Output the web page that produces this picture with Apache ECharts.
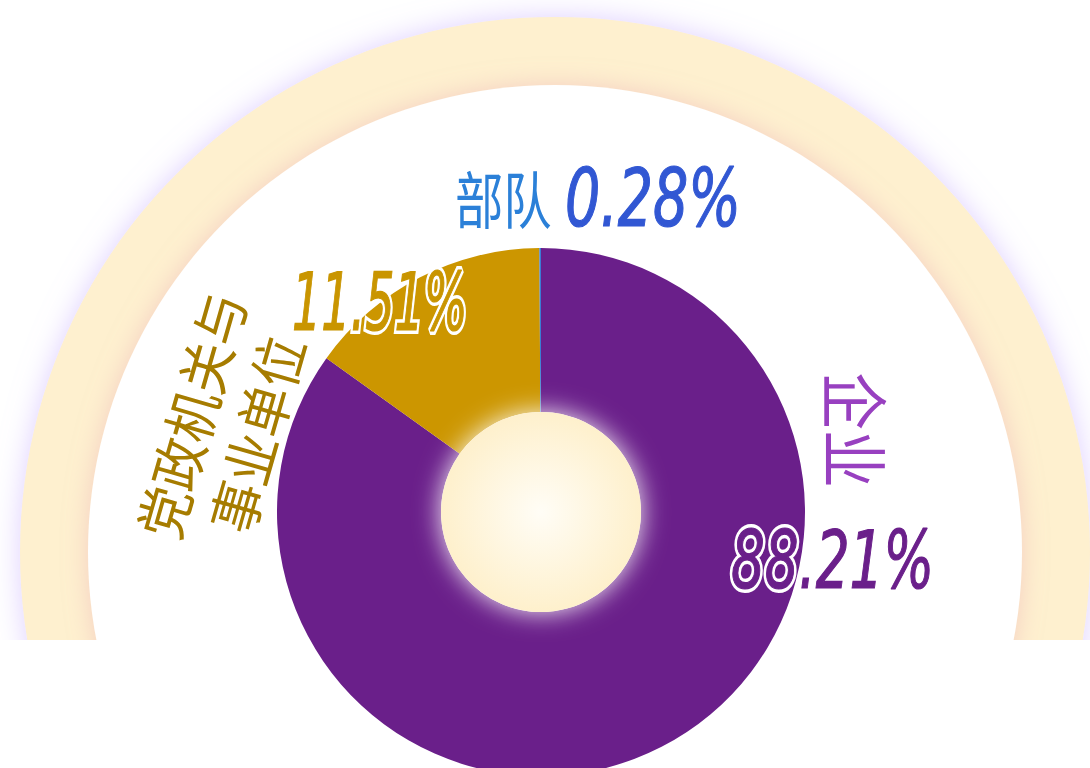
<!DOCTYPE html>
<html>
<head>
<meta charset="utf-8">
<title>单位性质占比</title>
<script src="https://cdn.jsdelivr.net/npm/echarts@6/dist/echarts.min.js"></script>
<style>
  html, body { margin: 0; padding: 0; background: #fff; }
  #main { width: 1090px; height: 768px; }
</style>
</head>
<body>
<div id="main"></div>
<script>
const names = ['企业', '党政机关与事业单位', '部队'];
const sliceValues = [84.9, 15.0, 0.1];
const percentLabels = ['88.21%', '11.51%', '0.28%'];

const numFont = '"Liberation Sans Narrow", "DejaVu Sans Condensed", sans-serif';
const cjkFont = '"Noto Sans CJK SC", sans-serif';
const deg = Math.PI / 180;

let myChart = echarts.init(document.getElementById('main'), null, { renderer: 'svg' });

// white halo underneath, coloured text on top
function numText(x, y, text, color, sx) {
  let base = {
    type: 'text', x: x, y: y, scaleX: sx,
    style: {
      text: text, fontFamily: numFont, fontStyle: 'italic', fontSize: 80,
      align: 'left', verticalAlign: 'middle'
    }
  };
  let halo = echarts.util.merge({ z: 19, style: { fill: '#fff', stroke: '#fff', lineWidth: 8 } }, base, true);
  let front = echarts.util.merge({ z: 20, style: { fill: color, stroke: color, lineWidth: 1.2 } }, base, true);
  return [halo, front];
}

let option = {
  backgroundColor: '#fff',
  graphic: {
    elements: [
      // big pale ring behind the pie
      {
        type: 'circle', z: 0, shape: { cx: 555, cy: 552, r: 535 },
        style: { fill: '#FEF0CF', shadowBlur: 28, shadowColor: 'rgba(190,160,255,0.5)' }
      },
      {
        type: 'circle', z: 1, shape: { cx: 555, cy: 552, r: 467 },
        style: { fill: '#fff', shadowBlur: 24, shadowColor: 'rgba(235,170,180,0.5)' }
      },
      {
        type: 'rect', z: 1.5, shape: { x: 0, y: 640, width: 1090, height: 128 },
        style: { fill: '#fff' }
      },
      // glowing centre
      {
        type: 'circle', z: 10, shape: { cx: 541, cy: 512, r: 100 },
        style: {
          fill: new echarts.graphic.RadialGradient(0.5, 0.5, 0.5, [
            { offset: 0, color: '#FFFDF6' },
            { offset: 1, color: '#FEF0CC' }
          ]),
          shadowBlur: 26, shadowColor: 'rgba(255,255,255,0.95)'
        }
      },
      // 部队
      {
        type: 'text', z: 20, x: 455, y: 197, scaleX: 0.78,
        style: {
          text: names[2], fill: '#2B80D8',
          fontFamily: cjkFont, fontSize: 62, align: 'left', verticalAlign: 'middle'
        }
      },
      ...numText(565, 199, percentLabels[2], '#3157D3', 0.77),
      // 党政机关与事业单位
      {
        type: 'text', z: 20, x: 222, y: 424, rotation: 74 * deg, scaleX: 0.9,
        style: {
          text: names[1].slice(0, 5) + '\n' + names[1].slice(5),
          fill: '#A67C00', fontFamily: cjkFont, fontSize: 56, lineHeight: 68,
          align: 'center', verticalAlign: 'middle'
        }
      },
      ...numText(292, 303, percentLabels[1], '#C99500', 0.64),
      // 企业
      {
        type: 'text', z: 20, x: 858, y: 430, rotation: -90 * deg, scaleX: 0.85,
        style: {
          text: names[0], fill: '#9840C0',
          fontFamily: cjkFont, fontSize: 68, align: 'center', verticalAlign: 'middle'
        }
      },
      ...numText(731, 561, percentLabels[0], '#6A1F8A', 0.74)
    ]
  },
  series: [
    {
      type: 'pie',
      z: 2,
      center: [541, 512],
      radius: [100, 264],
      startAngle: 90,
      clockwise: true,
      silent: true,
      label: { show: false },
      labelLine: { show: false },
      data: names.map((n, i) => ({ name: n, value: sliceValues[i] })),
      color: ['#6A1F8A', '#CC9600', '#3A7BD5']
    }
  ]
};
myChart.setOption(option);
</script>
</body>
</html>
